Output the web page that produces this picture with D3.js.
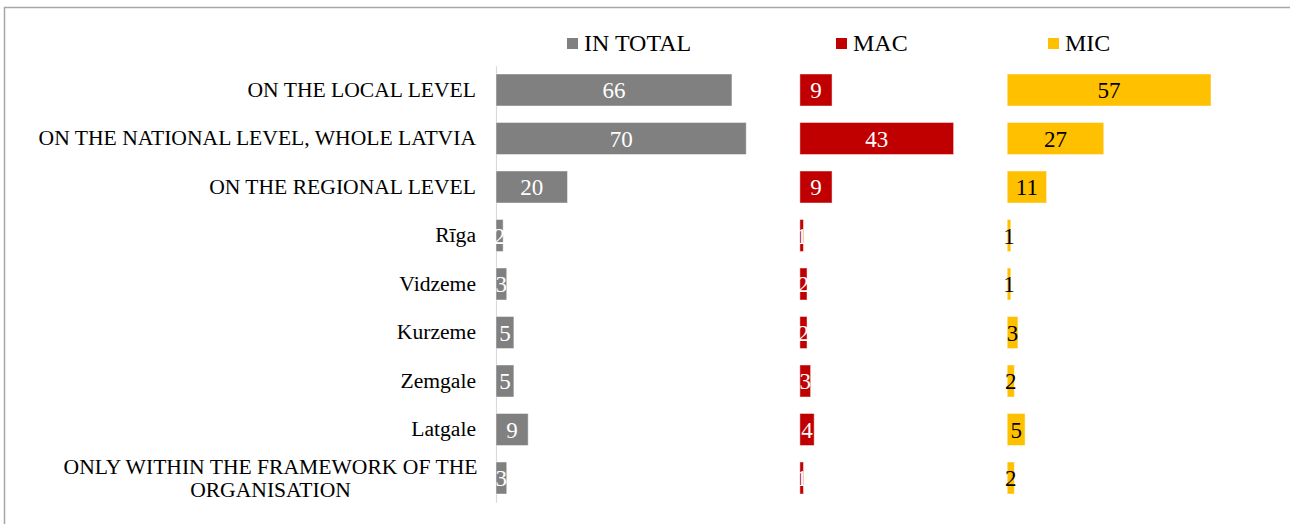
<!DOCTYPE html>
<html>
<head>
<meta charset="utf-8">
<script src="https://cdn.jsdelivr.net/npm/d3@7"></script>
<style>
  html, body { margin: 0; padding: 0; background: #fff; }
  svg { display: block; }
  text { font-family: "Liberation Serif", "Times New Roman", serif; }
</style>
</head>
<body>
<svg id="chart" width="1290" height="524"></svg>
<script>
// ---- data ----
const categories = [
  "ON THE LOCAL LEVEL",
  "ON THE NATIONAL LEVEL, WHOLE LATVIA",
  "ON THE REGIONAL LEVEL",
  "Rīga",
  "Vidzeme",
  "Kurzeme",
  "Zemgale",
  "Latgale",
  "ONLY WITHIN THE FRAMEWORK OF THE ORGANISATION"
];
const seriesNames = ["IN TOTAL", "MAC", "MIC"];
const inTotal = [66, 70, 20, 2, 3, 5, 5, 9, 3];
const mac     = [9, 43, 9, 1, 2, 2, 3, 4, 1];
const mic     = [57, 27, 11, 1, 1, 3, 2, 5, 2];
const seriesColors = ["#808080", "#c00000", "#ffc000"];
const labelColors  = ["#ffffff", "#ffffff", "#000000"];
const gap = 15; // invisible spacer between panels (value units)

const seriesValues = [inTotal, mac, mic];

// ---- layout ----
const svg = d3.select("#chart");

// frame
svg.append("rect")
  .attr("x", 4.5).attr("y", 7.5)
  .attr("width", 1400).attr("height", 700)
  .attr("fill", "none")
  .attr("stroke", "#a6a6a6")
  .attr("stroke-width", 1.5);

const plotLeft = 496;
const unit = 3.575;
const domainMax = 220;
const x = d3.scaleLinear().domain([0, domainMax]).range([plotLeft, plotLeft + domainMax * unit]);

const y = d3.scaleBand()
  .domain(categories)
  .range([65.75, 502.25])
  .paddingInner(0.34)
  .paddingOuter(0.17);

// panel offsets
const offsets = [];
let acc = 0;
seriesValues.forEach((vals, i) => {
  offsets.push(acc);
  acc += d3.max(vals) + gap;
});

// category axis
const yAxis = d3.axisLeft(y).tickSize(0).tickPadding(20);
const gAxis = svg.append("g")
  .attr("transform", `translate(${plotLeft},0)`)
  .call(yAxis);
gAxis.select(".domain").attr("stroke", "#d9d9d9").attr("stroke-width", 1.2);
gAxis.selectAll(".tick text")
  .attr("font-size", 21.6)
  .attr("font-family", "Liberation Serif, Times New Roman, serif")
  .attr("fill", "#000")
  .each(function(d) {
    if (d.startsWith("ONLY WITHIN")) {
      const t = d3.select(this);
      t.text(null).attr("text-anchor", "middle");
      const cx = -(plotLeft - 270.5);
      t.append("tspan").attr("x", cx).attr("dy", "-0.18em").text("ONLY WITHIN THE FRAMEWORK OF THE");
      t.append("tspan").attr("x", cx).attr("dy", "1.08em").text("ORGANISATION");
    }
  });

// bars
seriesValues.forEach((vals, si) => {
  const g = svg.append("g");
  const data = categories.map((c, i) => ({ c, v: vals[i] }));
  g.selectAll("rect")
    .data(data)
    .join("rect")
    .attr("x", d => x(offsets[si]))
    .attr("y", d => y(d.c))
    .attr("width", d => x(offsets[si] + d.v) - x(offsets[si]))
    .attr("height", y.bandwidth())
    .attr("fill", seriesColors[si])
    .attr("stroke", "#ffffff")
    .attr("stroke-opacity", 0.45)
    .attr("stroke-width", 1);
  g.selectAll("text")
    .data(data)
    .join("text")
    .attr("x", d => (x(offsets[si]) + x(offsets[si] + d.v)) / 2)
    .attr("y", d => y(d.c) + y.bandwidth() / 2)
    .attr("dy", "0.35em")
    .attr("text-anchor", "middle")
    .attr("font-size", 23)
    .attr("fill", labelColors[si])
    .text(d => d.v);
});

// legend
const legendX = [567, 836, 1048];
const legend = svg.append("g");
seriesNames.forEach((name, i) => {
  legend.append("rect")
    .attr("x", legendX[i]).attr("y", 38)
    .attr("width", 11).attr("height", 11)
    .attr("fill", seriesColors[i]);
  legend.append("text")
    .attr("x", legendX[i] + 17).attr("y", 51)
    .attr("font-size", 24)
    .attr("fill", "#000")
    .text(name);
});
</script>
</body>
</html>
